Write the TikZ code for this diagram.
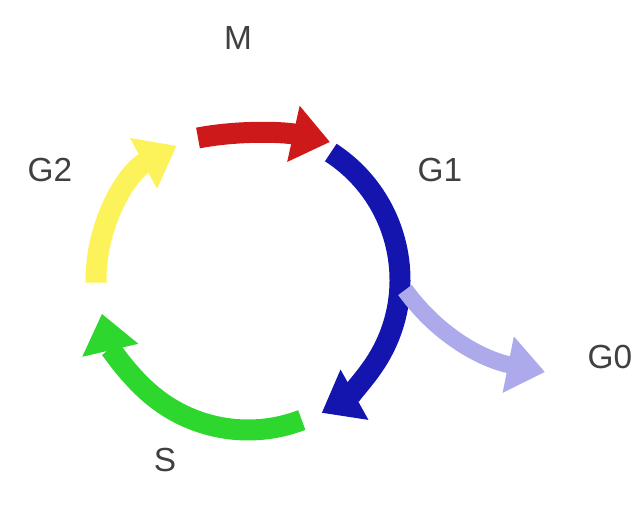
\documentclass[tikz,border=0pt]{standalone}
\usepackage{fontspec}
\setmainfont{Liberation Sans}
\usepackage{xcolor}
\usepackage{tikz}
\usetikzlibrary{arrows.meta}

\definecolor{mred}{RGB}{205,25,25}
\definecolor{gblue}{RGB}{20,20,175}
\definecolor{sgreen}{RGB}{45,215,45}
\definecolor{gyellow}{RGB}{252,242,90}
\definecolor{quiet}{RGB}{172,170,235}

\begin{document}
\begin{tikzpicture}[
    x=0.02cm, y=0.02cm,
    every node/.style={font=\fontsize{19}{22}\selectfont, text=black!75},
    phase/.style={line width=0.42cm, -{Triangle[length=0.75cm,width=1.1cm]}},
  ]
  \useasboundingbox (0,0) rectangle (632,510);

  % centre of the cycle
  \coordinate (c) at (248,230);

  % phases round the circle
  \draw[phase,gyellow] (c) ++(181:152) arc[start angle=181, end angle=118, radius=3.04cm];
  \coordinate (mstart) at (198,372);
  \coordinate (mend)   at (330,368);
  \draw[phase,mred] (mstart) .. controls (240,380) and (285,378) .. (mend);
  \draw[phase,gblue]   (c) ++(57:152)  arc[start angle=57,  end angle=-61, radius=3.04cm];
  \draw[phase,sgreen]  (c) ++(-69:150) arc[start angle=-69, end angle=-167, radius=3.0cm];

  % exit to G0
  \coordinate (g0start) at (405,220);
  \coordinate (g0end)   at (545,138);
  \draw[phase,quiet,line width=0.34cm] (g0start) .. controls (440,172) and (485,150) .. (g0end);

  % labels
  \node (lblM)  at (238,472) {M};
  \node (lblG1) at (440,340) {G1};
  \node (lblG2) at (50,340)  {G2};
  \node (lblG0) at (610,153) {G0};
  \node (lblS)  at (165,50)  {S};
\end{tikzpicture}
\end{document}
